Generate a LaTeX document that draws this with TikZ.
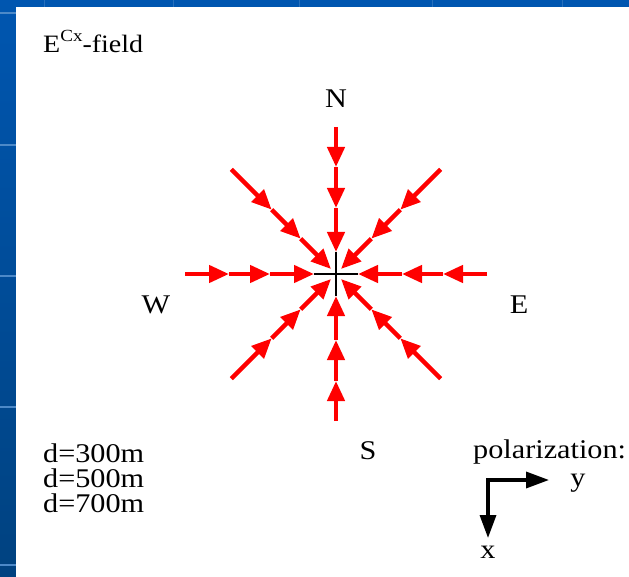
\documentclass[tikz,border=0pt]{standalone}
\usepackage{fontspec}
\setmainfont[FakeStretch=1.12]{Liberation Serif}
\usetikzlibrary{arrows.meta}
\definecolor{slideblue}{RGB}{0,86,176}
\definecolor{slidedark}{RGB}{0,66,128}
\definecolor{fieldred}{RGB}{255,0,0}

\begin{document}
\begin{tikzpicture}[x=1pt,y=-1pt,line join=miter,
  lbl/.style={font=\fontsize{27}{25}\selectfont,inner sep=0pt},
  fieldarrow/.style={fieldred,line width=4.4pt,-{Triangle[length=20pt,width=17pt]}},
  polarrow/.style={black,line width=3.4pt,{Triangle[length=23pt,width=16pt]}-{Triangle[length=23pt,width=16pt]}}]
  \useasboundingbox (0,0) rectangle (629,577);
  % ---------------- slide background ----------------
  \fill[top color=slideblue,bottom color=slidedark] (0,0) rectangle (629,577);
  \foreach \yy in {13,145,276,407,565}
    \draw[slideblue!70!white,line width=1.5pt] (0,\yy) -- (16,\yy);
  \foreach \xx in {44,173,299,432,562}
    \draw[slideblue!85!white,line width=1pt] (\xx,0) -- (\xx,7);
  \fill[white] (16,7) rectangle (629,577);

  % ---------------- title ----------------
  \node[lbl,font=\fontsize{25}{25}\selectfont,anchor=base west] (title) at (43,53)
    {E\raisebox{11pt}{\fontsize{17}{17}\selectfont Cx}-field};

  % ---------------- radial field, pointing inward ----------------
  \coordinate (c) at (336,274);
  % thin black core on the N-S and W-E lines
  \draw[black,line width=2pt] (314,274) -- (358,274);
  \draw[black,line width=2pt] (336,252) -- (336,296);
  % angle / outer end / arrow tips
  \foreach \a/\r/\p/\q/\s in {0/151/107/66/22,90/147/107/66/22,180/151/107/66/22,270/147/107/66/22,
                              45/148/91/50/7,135/148/91/50/7,225/148/91/50/7,315/148/91/50/7}
    {\begin{scope}[shift={(c)},rotate=\a]
       \draw[fieldarrow] (\r,0) -- (\p,0);
       \draw[fieldarrow] (\p,0) -- (\q,0);
       \draw[fieldarrow] (\q,0) -- (\s,0);
     \end{scope}}

  % ---------------- compass labels ----------------
  \node[lbl,anchor=base] (north) at (336,108) {N};
  \node[lbl,anchor=base] (west)  at (156,313) {W};
  \node[lbl,anchor=base] (east)  at (519,313) {E};
  \node[lbl,anchor=base] (south) at (368,459) {S};

  % ---------------- offsets ----------------
  \foreach \d/\yy in {300/462,500/487,700/512}
    \node[lbl,anchor=base west] (d\d) at (43,\yy) {d=\d m};

  % ---------------- polarization ----------------
  \node[lbl,anchor=base west] (pol) at (473,458) {polarization:};
  \coordinate (polx) at (488,538);
  \coordinate (poly) at (549,480);
  \draw[polarrow] (polx) |- (poly);
  \node[lbl,anchor=base] (ylab) at (578,486) {y};
  \node[lbl,anchor=base] (xlab) at (488,558) {x};
\end{tikzpicture}
\end{document}
